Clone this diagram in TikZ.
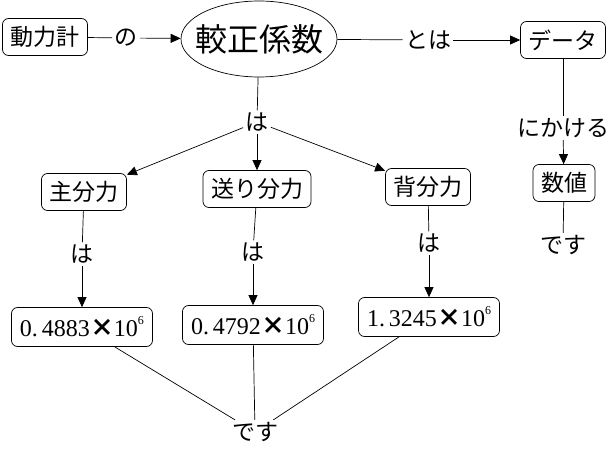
\documentclass[tikz,border=0pt]{standalone}
\usepackage{fontspec}
\setmainfont{Liberation Serif}
\newfontfamily\cjk{Noto Sans CJK JP}
\usetikzlibrary{arrows.meta,shapes.geometric}

\begin{document}
\begin{tikzpicture}[x=1pt,y=-1pt,>={Triangle[length=10pt,width=9pt]},line width=0.7pt,
		box/.style={draw,rounded corners=6pt,inner xsep=8pt,minimum height=37pt,font=\cjk\fontsize{23}{23}\selectfont},
		numbox/.style={draw,rounded corners=6pt,minimum width=141pt,minimum height=39pt,font=\fontsize{24}{24}\selectfont},
		word/.style={inner sep=2pt,font=\cjk\fontsize{23}{23}\selectfont}]
		\useasboundingbox (0,0) rectangle (613,449);
		\node[box] (keiki) at (45,37) {動力計};
		\node[word] (no) at (126,38) {の};
		\node[draw,ellipse,minimum width=156pt,minimum height=76pt,inner sep=0pt,%
		font=\cjk\fontsize{32}{32}\selectfont] (keisu) at (259,39) {\makebox[0pt]{較正係数}};
		\node[word] (toha) at (428,40) {とは};
		\node[box] (data) at (563,40) {データ};
		\node[word] (nikakeru) at (563,128) {にかける};
		\node[box] (suuchi) at (564,183) {数値};
		\node[word] (desu1) at (563,245) {です};
		\node[word] (ha0) at (257,122) {は};
		\node[word] (desu2) at (255,432) {です};
		\draw (keiki) -- (no);
		\draw[->] (no) -- (keisu);
		\draw (keisu) -- (toha);
		\draw[->] (toha) -- (data);
		\draw (data) -- (nikakeru);
		\draw[->] (nikakeru) -- (suuchi);
		\draw (suuchi) -- (desu1);
		\draw (keisu) -- (ha0);
		\foreach \i/\xa/\ya/\lbl/\yb/\xc/\yc/\val in {
			1/84/192/主分力/254/82/327/0.\,4883,
			2/257/189/送り分力/252/253/325/0.\,4792,
			3/428/187/背分力/243/429/317/1.\,3245}{
			\node[box] (f\i) at (\xa,\ya) {\lbl};
			\node[word] (h\i) at (\xc,\yb) {は};
			\node[numbox] (v\i) at (\xc,\yc) {\val{\cjk\bfseries ×}10\raisebox{1.1ex}{\fontsize{12}{12}\selectfont 6}};
			\draw[->] (ha0) -- (f\i);
			\draw (f\i) -- (h\i);
			\draw[->] (h\i) -- (v\i);
			\draw (v\i) -- (desu2);
		}
\end{tikzpicture}
\end{document}
